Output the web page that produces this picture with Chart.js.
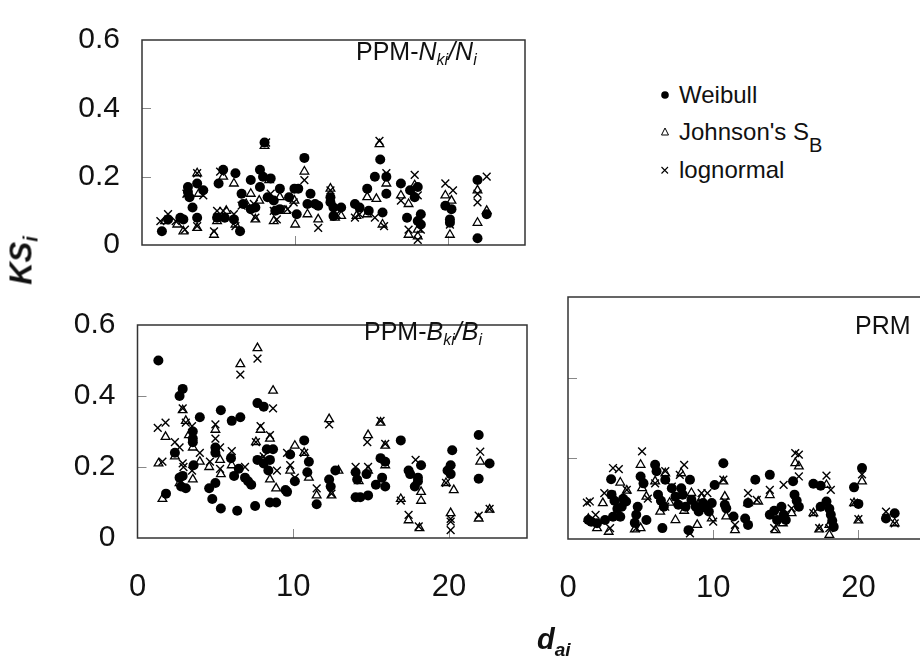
<!DOCTYPE html>
<html>
<head>
<meta charset="utf-8">
<title>KS by diameter class</title>
<script src="https://cdn.jsdelivr.net/npm/chart.js@4.4.0/dist/chart.umd.min.js"></script>
<style>
body { margin:0; width:920px; height:658px; overflow:hidden; background:#fff; position:relative;
       font-family:'Liberation Sans', Arial, sans-serif; color:#111; }
canvas { position:absolute; }
.lbl { position:absolute; font-size:25px; line-height:1; white-space:nowrap; }
.lbl sub { font-size:16px; vertical-align:-5px; }
.leg { position:absolute; left:658px; font-size:24px; line-height:1; white-space:nowrap; }
.leg svg { position:absolute; left:0; top:5px; }
.leg span { position:absolute; left:21px; top:0; }
#ytitle { position:absolute; left:-24px; top:238px; width:100px; text-align:center; font-size:31px; line-height:36px;
          font-weight:bold; font-style:italic; transform:rotate(-90deg); white-space:nowrap; }
#ytitle sub { font-size:20px; vertical-align:-6px; }
#xtitle { position:absolute; left:537px; top:625px; font-size:29px; line-height:1; font-weight:bold; font-style:italic; }
#xtitle sub { font-size:19px; vertical-align:-7px; }
</style>
</head>
<body>
<canvas id="nk" width="540" height="285" style="left:0;top:0"></canvas>
<canvas id="bk" width="540" height="373" style="left:0;top:285px"></canvas>
<canvas id="prm" width="420" height="373" style="left:520px;top:285px"></canvas>

<div class="lbl" style="left:356px;top:39px">PPM-<i>N<sub>ki</sub>/N<sub>i</sub></i></div>
<div class="lbl" style="left:364px;top:319px">PPM-<i>B<sub>ki</sub>/B<sub>i</sub></i></div>
<div class="lbl" style="left:855px;top:313px">PRM</div>

<div class="leg" style="top:83px"><svg width="14" height="14"><circle cx="7" cy="7" r="3.8" fill="#000"/></svg><span>Weibull</span></div>
<div class="leg" style="top:120px"><svg width="14" height="14"><polygon points="7,3 10.5,10 3.5,10" fill="none" stroke="#000" stroke-width="1"/></svg><span>Johnson's S<sub style="font-size:20px;vertical-align:-12px">B</sub></span></div>
<div class="leg" style="top:158px"><svg width="14" height="14"><path d="M3.5,4 L10,10.5 M10,4 L3.5,10.5" stroke="#000" stroke-width="1.1"/></svg><span>lognormal</span></div>

<div id="ytitle">KS<sub>i</sub></div>
<div id="xtitle">d<sub>ai</sub></div>

<script>
// [d_ai, KS_i]
// PPM - Nki/Ni
const nkWeibull = [[1.3,.04],[1.7,.075],[2.5,.08],[2.7,.075],[3.0,.17],[3.0,.155],[3.1,.14],[3.6,.18],[3.6,.08],[3.3,.11],[4.0,.16],[5.0,.18],[5.3,.22],[4.9,.08],[5.4,.08],[6.1,.21],[6.0,.075],[6.4,.04],[6.5,.15],[6.6,.12],[7.1,.19],[7.1,.105],[7.4,.11],[7.7,.17],[7.7,.22],[8.0,.30],[7.9,.2],[8.2,.14],[8.4,.195],[8.6,.13],[8.7,.10],[9.0,.105],[9.0,.165],[9.6,.14],[9.95,.165],[10.2,.165],[10.1,.09],[10.6,.255],[11.0,.15],[10.8,.12],[11.3,.12],[11.5,.115],[12.3,.14],[12.3,.125],[12.5,.11],[13.0,.11],[12.5,.085],[13.9,.12],[14.2,.11],[14.7,.165],[14.8,.1],[15.2,.2],[15.55,.25],[15.7,.095],[15.95,.2],[15.95,.15],[16.9,.18],[17.3,.08],[17.5,.16],[17.8,.14],[18.0,.17],[18.0,.07],[18.2,.09],[18.2,.06],[19.8,.115],[20.2,.105],[20.1,.075],[20.1,.065],[21.9,.19],[22.5,.09],[21.9,.02]];
const nkJohnson = [[1.5,.07],[2.3,.06],[2.7,.04],[3.0,.15],[3.6,.21],[3.6,.05],[3.7,.15],[4.7,.03],[4.9,.07],[5.3,.2],[5.5,.1],[6.0,.18],[6.1,.06],[6.8,.12],[7.1,.15],[7.4,.075],[7.65,.13],[8.0,.29],[8.3,.19],[8.6,.07],[9.0,.14],[9.4,.1],[9.95,.13],[10.0,.06],[10.6,.215],[10.8,.09],[11.5,.075],[12.3,.165],[12.6,.08],[13.0,.085],[14.0,.085],[14.7,.09],[14.7,.14],[15.3,.135],[15.5,.295],[15.7,.06],[15.95,.18],[16.9,.145],[17.4,.12],[17.4,.03],[17.8,.175],[18.0,.025],[18.0,.045],[19.8,.145],[20.2,.13],[20.1,.03],[21.9,.16],[21.9,.065],[22.5,.1]];
const nkLognormal = [[1.2,.07],[1.7,.09],[2.2,.07],[2.8,.045],[2.9,.15],[3.6,.21],[3.6,.055],[4.0,.145],[4.7,.04],[4.9,.1],[5.1,.215],[5.3,.1],[6.0,.09],[6.1,.055],[6.5,.115],[7.4,.08],[7.3,.12],[8.1,.30],[8.4,.15],[8.6,.1],[8.8,.075],[9.5,.105],[9.9,.125],[10.6,.19],[11.5,.05],[12.3,.16],[12.7,.09],[13.9,.08],[14.2,.09],[15.2,.08],[15.5,.305],[15.8,.055],[15.95,.21],[16.9,.13],[17.8,.205],[17.4,.045],[18.0,.145],[18.0,.015],[18.2,.045],[19.8,.18],[20.3,.16],[20.1,.06],[22.5,.2],[21.9,.125],[21.9,.15]];

// PPM - Bki/Bi
const bkWeibull = [[1.34,.50],[1.83,.125],[2.4,.24],[2.7,.40],[2.9,.42],[2.7,.17],[2.9,.175],[3.1,.14],[2.8,.145],[3.55,.30],[3.55,.28],[3.55,.27],[3.6,.205],[4.0,.34],[4.6,.14],[4.8,.11],[5.0,.155],[5.0,.255],[5.0,.24],[5.35,.36],[5.35,.083],[6.05,.33],[6.0,.225],[6.2,.175],[6.4,.077],[6.6,.34],[6.5,.195],[6.9,.17],[7.1,.16],[7.3,.15],[7.55,.09],[7.7,.38],[8.1,.37],[7.7,.22],[8.1,.21],[8.5,.22],[8.3,.25],[8.7,.25],[8.4,.19],[8.5,.10],[8.9,.10],[9.5,.135],[9.6,.13],[9.8,.235],[10.1,.16],[10.7,.275],[11.0,.215],[10.9,.185],[11.5,.095],[12.3,.165],[12.4,.145],[12.7,.19],[14.0,.115],[14.3,.115],[14.8,.12],[14.0,.185],[14.1,.165],[14.7,.18],[15.3,.15],[15.6,.225],[15.9,.215],[15.7,.17],[15.9,.145],[16.9,.275],[17.4,.19],[17.5,.18],[17.8,.145],[18.0,.17],[18.0,.16],[18.2,.205],[19.9,.19],[20.1,.205],[20.1,.18],[20.2,.247],[21.9,.29],[22.6,.21],[21.9,.167]];
const bkJohnson = [[1.35,.21],[1.6,.11],[1.8,.285],[2.4,.23],[2.7,.155],[2.9,.36],[3.1,.33],[3.3,.29],[3.55,.255],[3.55,.165],[4.0,.215],[4.6,.2],[5.0,.305],[5.3,.22],[5.35,.18],[6.05,.205],[6.6,.49],[7.7,.535],[7.6,.27],[7.9,.305],[8.0,.22],[8.5,.28],[8.5,.165],[8.7,.415],[8.9,.14],[9.8,.19],[10.1,.26],[10.7,.24],[11.0,.17],[11.5,.12],[12.3,.335],[12.45,.12],[12.9,.19],[14.2,.16],[14.8,.29],[14.8,.19],[15.6,.325],[15.9,.205],[15.9,.26],[16.9,.11],[17.4,.05],[18.1,.028],[18.2,.105],[18.2,.13],[19.8,.155],[20.1,.07],[20.3,.135],[22.0,.215],[21.9,.055],[22.6,.08]];
const bkLognormal = [[1.3,.31],[1.6,.215],[1.8,.325],[2.4,.27],[2.7,.255],[2.9,.21],[2.95,.2],[2.9,.365],[3.1,.325],[3.5,.315],[3.5,.19],[4.0,.24],[4.65,.215],[5.0,.32],[5.0,.28],[5.3,.255],[5.3,.195],[6.05,.245],[6.6,.46],[6.9,.2],[7.7,.505],[7.6,.27],[7.9,.315],[8.1,.23],[8.5,.29],[8.7,.365],[8.95,.19],[9.6,.24],[9.8,.205],[10.1,.17],[10.7,.24],[11.5,.14],[12.3,.32],[12.45,.125],[14.0,.2],[14.75,.27],[14.8,.2],[15.6,.33],[15.9,.265],[16.9,.105],[17.4,.065],[17.85,.22],[18.05,.033],[19.8,.155],[20.1,.022],[20.1,.054],[20.1,.046],[22.0,.243],[21.9,.063],[22.6,.082]];

// PRM
const prmWeibull = [[1.4,.047],[1.6,.043],[2.0,.039],[2.55,.047],[2.97,.148],[3.0,.11],[3.2,.095],[3.4,.075],[3.1,.055],[3.6,.055],[3.7,.08],[3.8,.1],[4.0,.093],[4.6,.04],[4.7,.06],[4.8,.08],[5.0,.155],[5.2,.138],[5.4,.047],[6.0,.184],[6.1,.168],[6.2,.11],[6.4,.095],[6.6,.08],[6.7,.147],[6.5,.027],[7.15,.126],[7.4,.105],[7.6,.085],[7.8,.126],[7.9,.11],[8.1,.08],[8.4,.147],[8.5,.097],[8.8,.08],[9.0,.068],[8.3,.022],[9.3,.089],[9.5,.078],[9.7,.068],[9.9,.089],[10.1,.134],[10.7,.188],[10.8,.085],[10.9,.076],[11.4,.056],[12.2,.051],[12.4,.035],[12.4,.089],[12.9,.147],[13.9,.159],[13.9,.06],[14.2,.07],[14.4,.047],[14.7,.08],[14.85,.06],[15.0,.047],[15.5,.143],[15.6,.11],[15.75,.095],[15.9,.08],[16.9,.137],[17.4,.132],[17.4,.08],[17.8,.093],[18.0,.075],[18.1,.06],[18.2,.045],[18.3,.03],[19.7,.128],[20.0,.087],[20.25,.176],[21.9,.051],[22.5,.064]];
const prmJohnson = [[1.4,.05],[2.0,.027],[2.4,.089],[2.8,.018],[3.25,.06],[3.6,.14],[4.05,.12],[4.6,.024],[5.0,.027],[5.0,.184],[5.1,.126],[5.4,.105],[6.0,.143],[6.35,.068],[6.7,.163],[7.0,.09],[7.4,.047],[7.8,.163],[8.0,.07],[8.5,.114],[8.9,.035],[9.2,.101],[9.5,.075],[9.9,.051],[10.7,.143],[10.8,.105],[10.9,.056],[11.5,.022],[12.4,.089],[13.1,.093],[13.9,.109],[14.3,.022],[14.8,.039],[15.4,.064],[15.65,.188],[15.9,.18],[16.9,.064],[17.3,.024],[17.8,.134],[18.0,.035],[18.0,.01],[19.7,.089],[20.0,.046],[20.25,.143],[22.5,.039]];
const prmLognormal = [[1.3,.09],[1.5,.093],[1.9,.06],[2.5,.114],[2.9,.027],[3.0,.11],[3.1,.176],[3.5,.173],[4.05,.122],[4.7,.027],[5.1,.217],[5.5,.1],[6.0,.138],[6.7,.168],[6.7,.08],[7.15,.13],[7.7,.159],[8.0,.184],[8.4,.014],[8.8,.09],[9.2,.114],[9.6,.114],[10.0,.043],[10.7,.147],[10.8,.093],[11.5,.035],[12.4,.114],[13.0,.097],[13.9,.122],[14.2,.027],[14.85,.134],[15.4,.076],[15.65,.213],[15.9,.209],[15.9,.155],[16.9,.064],[17.3,.027],[17.8,.157],[18.0,.027],[18.1,.122],[19.7,.09],[20.0,.049],[20.25,.16],[21.9,.068],[22.5,.039]];

const xTicks = [0, 10, 20];
const yTicks = [0, 0.2, 0.4, 0.6];

const FONT = "'Liberation Sans', Arial, sans-serif";

function toXY(arr) {
	return arr.map(p => ({ x: p[0], y: p[1] }));
}

// box round the plot area and the small inward tick marks
const framePlugin = {
	id: 'frame',
	beforeDatasetsDraw(chart) {
		const ctx = chart.ctx;
		const a = chart.chartArea;
		const sx = chart.scales.x, sy = chart.scales.y;
		ctx.save();
		ctx.strokeStyle = '#888';
		ctx.lineWidth = 1;
		ctx.beginPath();
		xTicks.forEach(v => {
			if (v <= 0) return;
			const px = Math.round(sx.getPixelForValue(v)) + 0.5;
			ctx.moveTo(px, a.bottom);
			ctx.lineTo(px, a.bottom - 9);
		});
		yTicks.forEach(v => {
			if (v <= 0 || v >= 0.6) return;
			const py = Math.round(sy.getPixelForValue(v)) + 0.5;
			ctx.moveTo(a.left, py);
			ctx.lineTo(a.left + 9, py);
		});
		ctx.stroke();
		ctx.strokeStyle = '#333';
		ctx.lineWidth = 1.5;
		ctx.strokeRect(a.left, a.top, a.right - a.left, a.bottom - a.top);
		ctx.restore();
	}
};

function makePanel(id, weib, john, logn, cfg) {
	return new Chart(document.getElementById(id), {
		type: 'scatter',
		data: {
			datasets: [
				{ label: 'Weibull', data: toXY(weib), pointStyle: 'circle', pointRadius: 5,
				  backgroundColor: '#000', borderColor: '#000', borderWidth: 0, clip: false },
				{ label: "Johnson's SB", data: toXY(john), pointStyle: 'triangle', pointRadius: 5,
				  backgroundColor: 'rgba(0,0,0,0)', borderColor: '#000', borderWidth: 1.3, clip: false },
				{ label: 'lognormal', data: toXY(logn), pointStyle: 'crossRot', pointRadius: 5.5,
				  backgroundColor: '#000', borderColor: '#000', borderWidth: 1.4, clip: false }
			]
		},
		options: {
			responsive: false,
			animation: false,
			events: [],
			layout: { padding: cfg.pad },
			plugins: { legend: { display: false }, tooltip: { enabled: false } },
			scales: {
				x: {
					type: 'linear', min: 0, max: 25,
					afterFit: s => { s.height = cfg.xh; },
					afterBuildTicks: s => { s.ticks = xTicks.map(v => ({ value: v })); },
					ticks: { display: cfg.xlab, padding: 31, color: '#111', font: { size: 31, family: FONT } },
					grid: { display: false, drawTicks: false },
					border: { display: false }
				},
				y: {
					type: 'linear', min: 0, max: 0.6,
					afterFit: s => { s.width = cfg.yw; },
					afterBuildTicks: s => { s.ticks = yTicks.map(v => ({ value: v })); },
					ticks: { display: cfg.ylab, padding: 22, color: '#111', font: { size: 30, family: FONT },
					         callback: v => v === 0 ? '0' : v.toFixed(1) },
					grid: { display: false, drawTicks: false },
					border: { display: false }
				}
			}
		},
		plugins: [framePlugin]
	});
}

makePanel('nk', nkWeibull, nkJohnson, nkLognormal,
	{ pad: { top: 22, right: 15, left: 0, bottom: 0 }, yw: 142, xh: 22, xlab: false, ylab: true });
makePanel('bk', bkWeibull, bkJohnson, bkLognormal,
	{ pad: { top: 15, right: 13, left: 0, bottom: 0 }, yw: 137.5, xh: 120, xlab: true, ylab: true });
makePanel('prm', prmWeibull, prmJohnson, prmLognormal,
	{ pad: { top: 12, right: 9, left: 0, bottom: 0 }, yw: 48, xh: 119, xlab: true, ylab: false });
</script>
</body>
</html>
